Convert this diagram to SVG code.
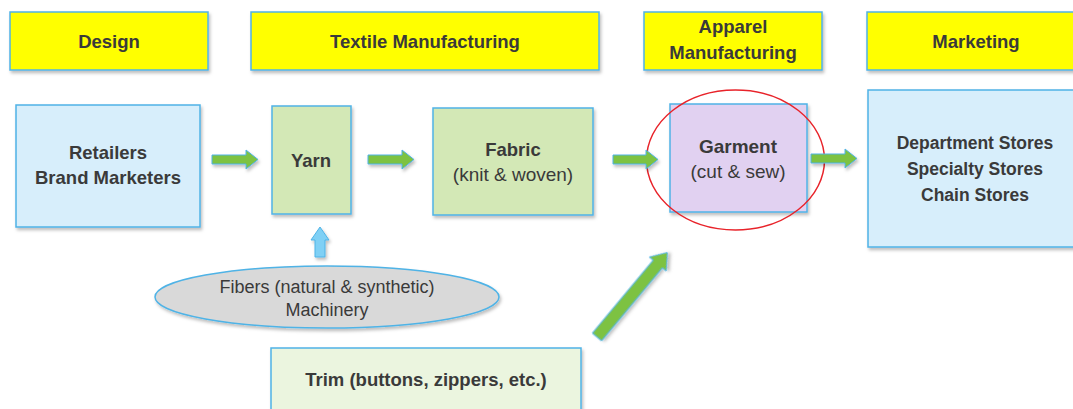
<svg xmlns="http://www.w3.org/2000/svg" width="1073" height="409" viewBox="0 0 1073 409">
<defs>
<filter id="sh" x="-10%" y="-10%" width="130%" height="140%">
<feDropShadow dx="1.5" dy="2.5" stdDeviation="1.5" flood-color="#000" flood-opacity="0.25"/>
</filter>
</defs>
<style>
.hdr{fill:#FFFF00;stroke:#4FB3E6;stroke-width:1.5;filter:url(#sh)}
.blue{fill:#D7EEFB;stroke:#4FB3E6;stroke-width:1.5;filter:url(#sh)}
.green{fill:#D3E8B6;stroke:#4FB3E6;stroke-width:1.5;filter:url(#sh)}
.purple{fill:#E1D1F1;stroke:#4FB3E6;stroke-width:1.5;filter:url(#sh)}
.trim{fill:#EBF5DF;stroke:#4FB3E6;stroke-width:1.5;filter:url(#sh)}
.gray{fill:#D9D9D9;stroke:#4FB3E6;stroke-width:1.5;filter:url(#sh)}
.ga{fill:#7DC242;stroke:#4FB3E6;stroke-width:1;filter:url(#sh)}
.ba{fill:#7FD0F5;stroke:#4FB3E6;stroke-width:1;filter:url(#sh)}
text{font-family:"Liberation Sans",Arial,sans-serif;fill:#3A3A3A;text-anchor:middle;font-size:18px}
.b{font-weight:bold;font-size:18.5px}
</style>
<g id="hdr-design"><rect class="hdr" x="10" y="12" width="198" height="58"/><text class="b" x="109" y="48">Design</text></g>
<g id="hdr-textile"><rect class="hdr" x="251" y="12" width="348" height="58"/><text class="b" x="425" y="48">Textile Manufacturing</text></g>
<g id="hdr-apparel"><rect class="hdr" x="644" y="12" width="178" height="58"/><text class="b" x="733" y="33">Apparel</text><text class="b" x="733" y="59">Manufacturing</text></g>
<g id="hdr-marketing"><rect class="hdr" x="867" y="12" width="215" height="58"/><text class="b" x="976" y="48">Marketing</text></g>
<g id="retailers"><rect class="blue" x="16" y="105" width="184" height="122"/><text class="b" x="108" y="159">Retailers</text><text class="b" x="108" y="184">Brand Marketers</text></g>
<g id="yarn"><rect class="green" x="272" y="106" width="79" height="108"/><text class="b" x="311" y="167">Yarn</text></g>
<g id="fabric"><rect class="green" x="433" y="108" width="160" height="107"/><text class="b" x="513" y="156">Fabric</text><text x="513" y="181" style="font-size:19px">(knit &amp; woven)</text></g>
<g id="garment"><rect class="purple" x="670" y="104" width="137" height="108"/><text class="b" x="738" y="153" style="font-size:19px">Garment</text><text x="738" y="178" style="font-size:19px">(cut &amp; sew)</text></g>
<g id="stores"><rect class="blue" x="868" y="90" width="214" height="157"/><text class="b" x="975" y="149" style="font-size:17.5px">Department Stores</text><text class="b" x="975" y="175" style="font-size:17.5px">Specialty Stores</text><text class="b" x="975" y="201" style="font-size:17.5px">Chain Stores</text></g>
<g id="fibers"><ellipse class="gray" cx="327" cy="297" rx="172" ry="31"/><text x="327" y="293">Fibers (natural &amp; synthetic)</text><text x="327" y="316">Machinery</text></g>
<g id="trim"><rect class="trim" x="271" y="348" width="310" height="62"/><text class="b" x="426" y="386">Trim (buttons, zippers, etc.)</text></g>
<g id="highlight"><ellipse cx="735.5" cy="160" rx="89" ry="70" fill="none" stroke="#E8232A" stroke-width="1.5"/></g>
<g id="connectors">
<path class="ga" d="M212,155 H246 V150 L258,159.5 L246,169 V164 H212 Z"/>
<path class="ga" d="M368,155 H402 V150 L414,159.5 L402,169 V164 H368 Z"/>
<path class="ga" d="M613,155 H646 V150 L658,159.5 L646,169 V164 H613 Z"/>
<path class="ga" d="M811,154 H845 V149 L857,158.5 L845,168 V163 H811 Z"/>
<path class="ba" d="M315,257 V240 H311 L320,227 L329,240 H325 V257 Z"/>
<path class="ga" transform="translate(597,337) rotate(-50.2)" d="M0,-6 H95 V-11 L110,0 L95,11 V6 H0 Z"/>
</g>
</svg>
